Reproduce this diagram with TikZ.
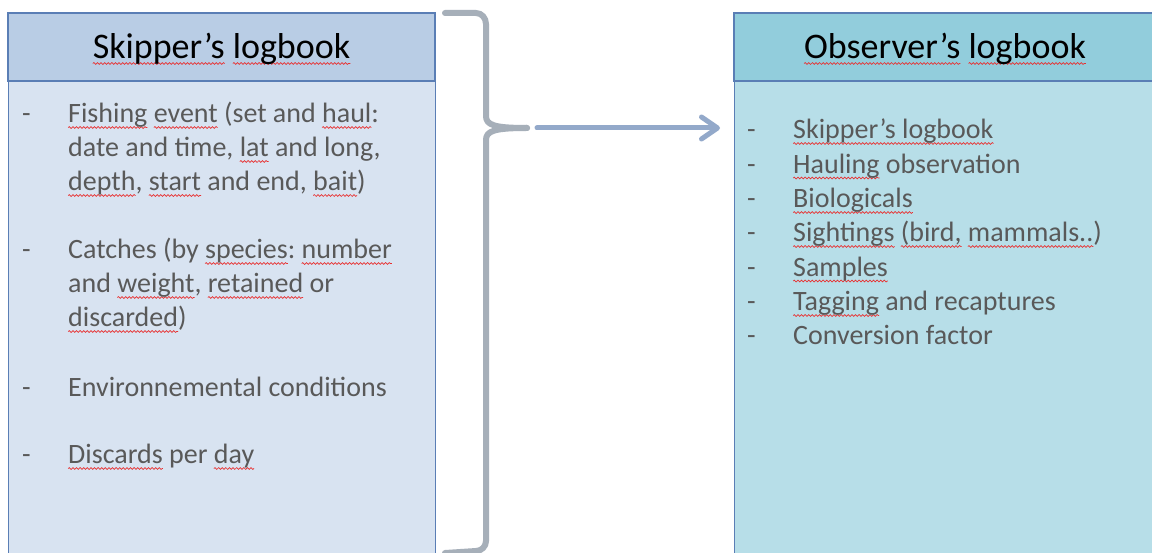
\documentclass[tikz,border=0pt]{standalone}
\usepackage{fontspec}
\setmainfont{Carlito}
\frenchspacing
\usetikzlibrary{arrows.meta,decorations.pathmorphing}
\definecolor{lhdr}{HTML}{B9CDE5}
\definecolor{lbd}{HTML}{D8E3F1}
\definecolor{rhdr}{HTML}{92CDDC}
\definecolor{rbd}{HTML}{B7DEE8}
\definecolor{bord}{HTML}{5A7EB5}
\definecolor{txtgray}{HTML}{595959}
\definecolor{brkc}{HTML}{A6AFB9}
\definecolor{arrc}{HTML}{93A9CA}
\definecolor{splred}{HTML}{E83030}
\newcommand\spl[1]{\setbox0\hbox{#1}\leavevmode\rlap{\tikz[overlay]\draw[splred, line width=0.7pt, line cap=butt, decorate, decoration={snake, amplitude=0.9pt, segment length=3.6pt}] (0pt,-4.5pt) -- (\the\wd0,-4.5pt);}\box0\relax}
\begin{document}
\begin{tikzpicture}[x=1pt,y=-1pt,
  box/.style={draw=bord, line width=1.3pt, inner sep=0pt},
  lhead/.style={box, fill=lhdr, minimum width=427pt, minimum height=68pt,
    font=\fontsize{36}{43}\selectfont, text height=24pt, text depth=0pt},
  rhead/.style={box, fill=rhdr, minimum width=422pt, minimum height=68pt,
    font=\fontsize{36}{43}\selectfont, text height=24pt, text depth=0pt},
  lbody/.style={box, fill=lbd, minimum width=427pt, minimum height=480pt, anchor=north west},
  rbody/.style={box, fill=rbd, minimum width=422pt, minimum height=480pt, anchor=north west},
  itm/.style={anchor=base west, inner sep=0pt, text=txtgray, font=\fontsize{28}{34}\selectfont},
  brk/.style={draw=brkc, line width=6pt, line cap=round, line join=round},
  arr/.style={draw=arrc, line width=5pt, line cap=round, -{Straight Barb[length=16pt,width=22pt,round]}}
]
\useasboundingbox (0,0) rectangle (1152,553);
\clip (0,0) rectangle (1152,553);
\fill[white] (0,0) rectangle (1152,553);

% left box
\node[lbody] (lb) at (8,81) {};
\node[lhead] (lh) at (221.5,47) {\spl{Skipper’s} \spl{logbook}};
% right box
\node[rbody] (rb) at (734,81) {};
\node[rhead] (rh) at (945,47) {\spl{Observer’s} \spl{logbook}};

% left items
\node[itm] (ld1) at (22,123) {-};
\node[itm] (l1) at (68,123) {\spl{Fishing} \spl{event} (set and \spl{haul}:};
\node[itm] (l2) at (68,157) {date and time, \spl{lat} and long,};
\node[itm] (l3) at (68,191) {\spl{depth}, \spl{start} and end, \spl{bait})};
\node[itm] (ld2) at (22,259) {-};
\node[itm] (l4) at (68,259) {Catches (by \spl{species}: \spl{number}};
\node[itm] (l5) at (68,293) {and \spl{weight}, \spl{retained} or};
\node[itm] (l6) at (68,327) {\spl{discarded})};
\node[itm] (ld3) at (22,396) {-};
\node[itm] (l7) at (68,396) {Environnemental conditions};
\node[itm] (ld4) at (22,464) {-};
\node[itm] (l8) at (68,464) {\spl{Discards} per \spl{day}};

% right items
\node[itm] (rd1) at (747,139) {-};
\node[itm] (r1) at (793,139) {\spl{Skipper’s logbook}};
\node[itm] (rd2) at (747,173.5) {-};
\node[itm] (r2) at (793,173.5) {\spl{Hauling} observation};
\node[itm] (rd3) at (747,208) {-};
\node[itm] (r3) at (793,208) {\spl{Biologicals}};
\node[itm] (rd4) at (747,242) {-};
\node[itm] (r4) at (793,242) {\spl{Sightings} \spl{(bird,} \spl{mammals..})};
\node[itm] (rd5) at (747,276.5) {-};
\node[itm] (r5) at (793,276.5) {\spl{Samples}};
\node[itm] (rd6) at (747,311) {-};
\node[itm] (r6) at (793,311) {\spl{Tagging} and recaptures};
\node[itm] (rd7) at (747,345) {-};
\node[itm] (r7) at (793,345) {Conversion factor};

% bracket
\coordinate (btip) at (527,128);
\draw[brk] (445,13) -- (476,13) to[out=0,in=90] (486,24) -- (486,116)
  .. controls (486,125) and (494,128) .. (btip);
\draw[brk] (btip) .. controls (494,128) and (486,131) .. (486,140)
  -- (486,541) to[out=-90,in=0] (476,551) -- (445,553);

% arrow
\coordinate (as) at ([xshift=10pt]btip);
\coordinate (ae) at ([xshift=-14pt]rb.west |- btip);
\draw[arr] (as) -- (ae);
\end{tikzpicture}
\end{document}
